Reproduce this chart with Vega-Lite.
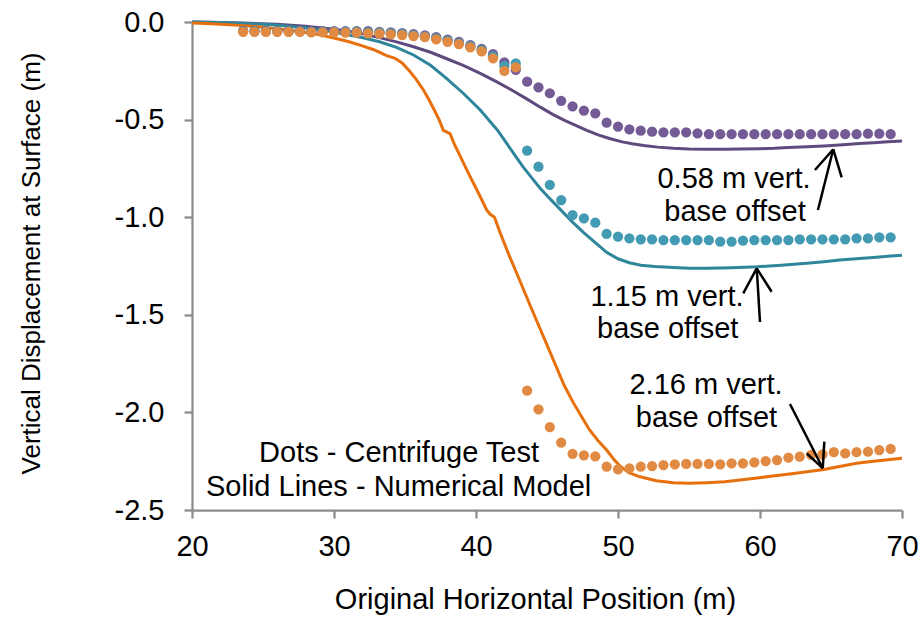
{
  "$schema": "https://vega.github.io/schema/vega-lite/v6.json",
  "width": 710,
  "height": 488,
  "autosize": {"type": "none"},
  "padding": {"left": 192, "top": 22, "right": 18, "bottom": 110},
  "background": "white",
  "config": {
    "view": {"stroke": null},
    "font": "Liberation Sans",
    "axis": {
      "grid": false,
      "domainColor": "#8c8c8c",
      "domainWidth": 2.25,
      "tickColor": "#8c8c8c",
      "tickWidth": 2.25,
      "tickSize": 8,
      "labelFontSize": 29,
      "labelColor": "black",
      "labelFont": "Liberation Sans",
      "titleFont": "Liberation Sans",
      "titleFontWeight": "normal",
      "titleColor": "black",
      "labelOverlap": false,
      "labelFlush": false
    }
  },
  "datasets": {
    "lines": [
      {"g": "P line", "x": 20, "y": 0},
      {"g": "P line", "x": 22, "y": -0.002},
      {"g": "P line", "x": 24, "y": -0.006},
      {"g": "P line", "x": 26, "y": -0.012},
      {"g": "P line", "x": 28, "y": -0.022},
      {"g": "P line", "x": 30, "y": -0.037},
      {"g": "P line", "x": 31.5, "y": -0.053},
      {"g": "P line", "x": 33.2, "y": -0.08},
      {"g": "P line", "x": 34.4, "y": -0.102},
      {"g": "P line", "x": 35.6, "y": -0.127},
      {"g": "P line", "x": 36.8, "y": -0.155},
      {"g": "P line", "x": 37.9, "y": -0.187},
      {"g": "P line", "x": 39.1, "y": -0.222},
      {"g": "P line", "x": 40.3, "y": -0.263},
      {"g": "P line", "x": 41.5, "y": -0.308},
      {"g": "P line", "x": 42.6, "y": -0.352},
      {"g": "P line", "x": 43.6, "y": -0.395},
      {"g": "P line", "x": 44.5, "y": -0.435},
      {"g": "P line", "x": 45.4, "y": -0.473},
      {"g": "P line", "x": 46.2, "y": -0.503},
      {"g": "P line", "x": 46.9, "y": -0.526},
      {"g": "P line", "x": 47.8, "y": -0.555},
      {"g": "P line", "x": 48.6, "y": -0.578},
      {"g": "P line", "x": 49.4, "y": -0.597},
      {"g": "P line", "x": 50.3, "y": -0.614},
      {"g": "P line", "x": 51.0, "y": -0.624},
      {"g": "P line", "x": 51.8, "y": -0.633},
      {"g": "P line", "x": 52.8, "y": -0.641},
      {"g": "P line", "x": 53.9, "y": -0.647},
      {"g": "P line", "x": 55.0, "y": -0.651},
      {"g": "P line", "x": 56.3, "y": -0.652},
      {"g": "P line", "x": 57.5, "y": -0.652},
      {"g": "P line", "x": 58.6, "y": -0.651},
      {"g": "P line", "x": 60.0, "y": -0.649},
      {"g": "P line", "x": 61.0, "y": -0.647},
      {"g": "P line", "x": 62.0, "y": -0.643},
      {"g": "P line", "x": 63.3, "y": -0.639},
      {"g": "P line", "x": 64.5, "y": -0.635},
      {"g": "P line", "x": 65.6, "y": -0.63},
      {"g": "P line", "x": 67.0, "y": -0.623},
      {"g": "P line", "x": 68.0, "y": -0.618},
      {"g": "P line", "x": 69.0, "y": -0.614},
      {"g": "P line", "x": 70.0, "y": -0.61},
      {"g": "T line", "x": 20, "y": 0},
      {"g": "T line", "x": 22, "y": -0.003},
      {"g": "T line", "x": 24, "y": -0.008},
      {"g": "T line", "x": 26, "y": -0.016},
      {"g": "T line", "x": 28, "y": -0.03},
      {"g": "T line", "x": 29.5, "y": -0.045},
      {"g": "T line", "x": 31, "y": -0.065},
      {"g": "T line", "x": 32.2, "y": -0.083},
      {"g": "T line", "x": 33.2, "y": -0.101},
      {"g": "T line", "x": 34.4, "y": -0.13},
      {"g": "T line", "x": 35.6, "y": -0.169},
      {"g": "T line", "x": 36.8, "y": -0.222},
      {"g": "T line", "x": 37.9, "y": -0.287},
      {"g": "T line", "x": 39.1, "y": -0.365},
      {"g": "T line", "x": 40.3, "y": -0.451},
      {"g": "T line", "x": 41.5, "y": -0.553},
      {"g": "T line", "x": 42.6, "y": -0.668},
      {"g": "T line", "x": 43.3, "y": -0.741},
      {"g": "T line", "x": 44.0, "y": -0.805},
      {"g": "T line", "x": 44.5, "y": -0.85},
      {"g": "T line", "x": 45.2, "y": -0.905},
      {"g": "T line", "x": 46.0, "y": -0.965},
      {"g": "T line", "x": 46.8, "y": -1.025},
      {"g": "T line", "x": 47.6, "y": -1.08},
      {"g": "T line", "x": 48.4, "y": -1.13},
      {"g": "T line", "x": 49.2, "y": -1.18},
      {"g": "T line", "x": 50.0, "y": -1.213},
      {"g": "T line", "x": 50.8, "y": -1.233},
      {"g": "T line", "x": 51.6, "y": -1.246},
      {"g": "T line", "x": 52.6, "y": -1.253},
      {"g": "T line", "x": 53.9, "y": -1.258},
      {"g": "T line", "x": 55.0, "y": -1.261},
      {"g": "T line", "x": 56.3, "y": -1.262},
      {"g": "T line", "x": 58.0, "y": -1.259},
      {"g": "T line", "x": 59.8, "y": -1.254},
      {"g": "T line", "x": 61.5, "y": -1.246},
      {"g": "T line", "x": 63.3, "y": -1.236},
      {"g": "T line", "x": 64.5, "y": -1.228},
      {"g": "T line", "x": 65.6, "y": -1.219},
      {"g": "T line", "x": 67.0, "y": -1.211},
      {"g": "T line", "x": 68.0, "y": -1.206},
      {"g": "T line", "x": 69.0, "y": -1.2},
      {"g": "T line", "x": 70.0, "y": -1.195},
      {"g": "O line", "x": 20, "y": -0.005},
      {"g": "O line", "x": 21, "y": -0.008},
      {"g": "O line", "x": 22, "y": -0.012},
      {"g": "O line", "x": 23, "y": -0.016},
      {"g": "O line", "x": 24, "y": -0.021},
      {"g": "O line", "x": 25, "y": -0.027},
      {"g": "O line", "x": 26, "y": -0.034},
      {"g": "O line", "x": 27, "y": -0.043},
      {"g": "O line", "x": 28, "y": -0.054},
      {"g": "O line", "x": 29, "y": -0.066},
      {"g": "O line", "x": 30, "y": -0.082},
      {"g": "O line", "x": 31, "y": -0.1},
      {"g": "O line", "x": 32, "y": -0.122},
      {"g": "O line", "x": 32.8, "y": -0.142},
      {"g": "O line", "x": 33.3, "y": -0.158},
      {"g": "O line", "x": 33.7, "y": -0.172},
      {"g": "O line", "x": 34.3, "y": -0.186},
      {"g": "O line", "x": 34.8, "y": -0.21},
      {"g": "O line", "x": 35.35, "y": -0.254},
      {"g": "O line", "x": 35.8, "y": -0.295},
      {"g": "O line", "x": 36.3, "y": -0.348},
      {"g": "O line", "x": 36.7, "y": -0.4},
      {"g": "O line", "x": 37.0, "y": -0.442},
      {"g": "O line", "x": 37.4, "y": -0.5},
      {"g": "O line", "x": 37.7, "y": -0.555},
      {"g": "O line", "x": 38.17, "y": -0.572},
      {"g": "O line", "x": 38.5, "y": -0.63},
      {"g": "O line", "x": 38.87, "y": -0.685},
      {"g": "O line", "x": 39.3, "y": -0.75},
      {"g": "O line", "x": 39.7, "y": -0.809},
      {"g": "O line", "x": 40.2, "y": -0.88},
      {"g": "O line", "x": 40.75, "y": -0.963},
      {"g": "O line", "x": 41.0, "y": -0.985},
      {"g": "O line", "x": 41.3, "y": -1.0},
      {"g": "O line", "x": 41.7, "y": -1.08},
      {"g": "O line", "x": 42.3, "y": -1.19},
      {"g": "O line", "x": 43.0, "y": -1.31},
      {"g": "O line", "x": 43.8, "y": -1.45},
      {"g": "O line", "x": 44.74, "y": -1.61},
      {"g": "O line", "x": 45.5, "y": -1.74},
      {"g": "O line", "x": 46.2, "y": -1.86},
      {"g": "O line", "x": 46.85, "y": -1.95},
      {"g": "O line", "x": 47.5, "y": -2.03},
      {"g": "O line", "x": 48.0, "y": -2.09},
      {"g": "O line", "x": 48.6, "y": -2.145},
      {"g": "O line", "x": 49.2, "y": -2.193},
      {"g": "O line", "x": 49.7, "y": -2.24},
      {"g": "O line", "x": 50.14, "y": -2.275},
      {"g": "O line", "x": 50.8, "y": -2.31},
      {"g": "O line", "x": 51.55, "y": -2.33},
      {"g": "O line", "x": 52.7, "y": -2.35},
      {"g": "O line", "x": 53.9, "y": -2.36},
      {"g": "O line", "x": 55.0, "y": -2.363},
      {"g": "O line", "x": 56.25, "y": -2.36},
      {"g": "O line", "x": 57.5, "y": -2.355},
      {"g": "O line", "x": 58.6, "y": -2.346},
      {"g": "O line", "x": 59.8, "y": -2.336},
      {"g": "O line", "x": 60.9, "y": -2.326},
      {"g": "O line", "x": 62.1, "y": -2.315},
      {"g": "O line", "x": 63.3, "y": -2.304},
      {"g": "O line", "x": 64.5, "y": -2.292},
      {"g": "O line", "x": 65.6, "y": -2.277},
      {"g": "O line", "x": 66.8, "y": -2.261},
      {"g": "O line", "x": 68.0, "y": -2.25},
      {"g": "O line", "x": 69.0, "y": -2.242},
      {"g": "O line", "x": 70.0, "y": -2.235}
    ],
    "dots": [
      {"g": "P dots", "x": 23.6, "y": -0.045}, {"g": "P dots", "x": 24.4, "y": -0.045}, {"g": "P dots", "x": 25.2, "y": -0.045},
      {"g": "P dots", "x": 26.0, "y": -0.045}, {"g": "P dots", "x": 26.8, "y": -0.045}, {"g": "P dots", "x": 27.6, "y": -0.045},
      {"g": "P dots", "x": 28.4, "y": -0.047}, {"g": "P dots", "x": 29.2, "y": -0.047}, {"g": "P dots", "x": 30.0, "y": -0.047},
      {"g": "P dots", "x": 30.8, "y": -0.047}, {"g": "P dots", "x": 31.6, "y": -0.047}, {"g": "P dots", "x": 32.4, "y": -0.047},
      {"g": "P dots", "x": 33.2, "y": -0.05}, {"g": "P dots", "x": 34.0, "y": -0.053}, {"g": "P dots", "x": 34.8, "y": -0.057},
      {"g": "P dots", "x": 35.6, "y": -0.062}, {"g": "P dots", "x": 36.4, "y": -0.068}, {"g": "P dots", "x": 37.2, "y": -0.078},
      {"g": "P dots", "x": 38.0, "y": -0.09}, {"g": "P dots", "x": 38.8, "y": -0.102}, {"g": "P dots", "x": 39.6, "y": -0.118},
      {"g": "P dots", "x": 40.4, "y": -0.138}, {"g": "P dots", "x": 41.2, "y": -0.165}, {"g": "P dots", "x": 42.0, "y": -0.207},
      {"g": "P dots", "x": 42.8, "y": -0.245}, {"g": "P dots", "x": 43.6, "y": -0.306}, {"g": "P dots", "x": 44.4, "y": -0.335},
      {"g": "P dots", "x": 45.2, "y": -0.365}, {"g": "P dots", "x": 46.0, "y": -0.404}, {"g": "P dots", "x": 46.8, "y": -0.432},
      {"g": "P dots", "x": 47.6, "y": -0.454}, {"g": "P dots", "x": 48.4, "y": -0.468}, {"g": "P dots", "x": 49.2, "y": -0.516},
      {"g": "P dots", "x": 50.0, "y": -0.536}, {"g": "P dots", "x": 50.8, "y": -0.55}, {"g": "P dots", "x": 51.6, "y": -0.557},
      {"g": "P dots", "x": 52.4, "y": -0.562}, {"g": "P dots", "x": 53.2, "y": -0.565}, {"g": "P dots", "x": 54.0, "y": -0.565},
      {"g": "P dots", "x": 54.8, "y": -0.565}, {"g": "P dots", "x": 55.6, "y": -0.57}, {"g": "P dots", "x": 56.4, "y": -0.574},
      {"g": "P dots", "x": 57.2, "y": -0.575}, {"g": "P dots", "x": 58.0, "y": -0.575}, {"g": "P dots", "x": 58.8, "y": -0.575},
      {"g": "P dots", "x": 59.6, "y": -0.575}, {"g": "P dots", "x": 60.4, "y": -0.575}, {"g": "P dots", "x": 61.2, "y": -0.575},
      {"g": "P dots", "x": 62.0, "y": -0.575}, {"g": "P dots", "x": 62.8, "y": -0.575}, {"g": "P dots", "x": 63.6, "y": -0.575},
      {"g": "P dots", "x": 64.4, "y": -0.575}, {"g": "P dots", "x": 65.2, "y": -0.575}, {"g": "P dots", "x": 66.0, "y": -0.575},
      {"g": "P dots", "x": 66.8, "y": -0.575}, {"g": "P dots", "x": 67.6, "y": -0.572}, {"g": "P dots", "x": 68.4, "y": -0.572},
      {"g": "P dots", "x": 69.2, "y": -0.575},
      {"g": "T dots", "x": 23.6, "y": -0.048}, {"g": "T dots", "x": 24.4, "y": -0.048}, {"g": "T dots", "x": 25.2, "y": -0.048},
      {"g": "T dots", "x": 26.0, "y": -0.048}, {"g": "T dots", "x": 26.8, "y": -0.048}, {"g": "T dots", "x": 27.6, "y": -0.048},
      {"g": "T dots", "x": 28.4, "y": -0.05}, {"g": "T dots", "x": 29.2, "y": -0.05}, {"g": "T dots", "x": 30.0, "y": -0.05},
      {"g": "T dots", "x": 30.8, "y": -0.051}, {"g": "T dots", "x": 31.6, "y": -0.051}, {"g": "T dots", "x": 32.4, "y": -0.053},
      {"g": "T dots", "x": 33.2, "y": -0.055}, {"g": "T dots", "x": 34.0, "y": -0.058}, {"g": "T dots", "x": 34.8, "y": -0.062},
      {"g": "T dots", "x": 35.6, "y": -0.067}, {"g": "T dots", "x": 36.4, "y": -0.073}, {"g": "T dots", "x": 37.2, "y": -0.084},
      {"g": "T dots", "x": 38.0, "y": -0.096}, {"g": "T dots", "x": 38.8, "y": -0.108}, {"g": "T dots", "x": 39.6, "y": -0.124},
      {"g": "T dots", "x": 40.4, "y": -0.144}, {"g": "T dots", "x": 41.2, "y": -0.176}, {"g": "T dots", "x": 42.0, "y": -0.225},
      {"g": "T dots", "x": 42.8, "y": -0.212}, {"g": "T dots", "x": 43.6, "y": -0.659}, {"g": "T dots", "x": 44.4, "y": -0.741},
      {"g": "T dots", "x": 45.2, "y": -0.835}, {"g": "T dots", "x": 46.0, "y": -0.912}, {"g": "T dots", "x": 46.8, "y": -0.989},
      {"g": "T dots", "x": 47.6, "y": -1.006}, {"g": "T dots", "x": 48.4, "y": -1.028}, {"g": "T dots", "x": 49.2, "y": -1.086},
      {"g": "T dots", "x": 50.0, "y": -1.1}, {"g": "T dots", "x": 50.8, "y": -1.108}, {"g": "T dots", "x": 51.6, "y": -1.113},
      {"g": "T dots", "x": 52.4, "y": -1.113}, {"g": "T dots", "x": 53.2, "y": -1.117}, {"g": "T dots", "x": 54.0, "y": -1.117},
      {"g": "T dots", "x": 54.8, "y": -1.117}, {"g": "T dots", "x": 55.6, "y": -1.117}, {"g": "T dots", "x": 56.4, "y": -1.117},
      {"g": "T dots", "x": 57.2, "y": -1.125}, {"g": "T dots", "x": 58.0, "y": -1.125}, {"g": "T dots", "x": 58.8, "y": -1.12},
      {"g": "T dots", "x": 59.6, "y": -1.117}, {"g": "T dots", "x": 60.4, "y": -1.117}, {"g": "T dots", "x": 61.2, "y": -1.117},
      {"g": "T dots", "x": 62.0, "y": -1.117}, {"g": "T dots", "x": 62.8, "y": -1.113}, {"g": "T dots", "x": 63.6, "y": -1.113},
      {"g": "T dots", "x": 64.4, "y": -1.113}, {"g": "T dots", "x": 65.2, "y": -1.113}, {"g": "T dots", "x": 66.0, "y": -1.113},
      {"g": "T dots", "x": 66.8, "y": -1.108}, {"g": "T dots", "x": 67.6, "y": -1.108}, {"g": "T dots", "x": 68.4, "y": -1.103},
      {"g": "T dots", "x": 69.2, "y": -1.103},
      {"g": "O dots", "x": 23.6, "y": -0.05}, {"g": "O dots", "x": 24.4, "y": -0.05}, {"g": "O dots", "x": 25.2, "y": -0.05},
      {"g": "O dots", "x": 26.0, "y": -0.05}, {"g": "O dots", "x": 26.8, "y": -0.05}, {"g": "O dots", "x": 27.6, "y": -0.05},
      {"g": "O dots", "x": 28.4, "y": -0.053}, {"g": "O dots", "x": 29.2, "y": -0.053}, {"g": "O dots", "x": 30.0, "y": -0.053},
      {"g": "O dots", "x": 30.8, "y": -0.055}, {"g": "O dots", "x": 31.6, "y": -0.055}, {"g": "O dots", "x": 32.4, "y": -0.058},
      {"g": "O dots", "x": 33.2, "y": -0.06}, {"g": "O dots", "x": 34.0, "y": -0.063}, {"g": "O dots", "x": 34.8, "y": -0.067},
      {"g": "O dots", "x": 35.6, "y": -0.072}, {"g": "O dots", "x": 36.4, "y": -0.077}, {"g": "O dots", "x": 37.2, "y": -0.089},
      {"g": "O dots", "x": 38.0, "y": -0.102}, {"g": "O dots", "x": 38.8, "y": -0.113}, {"g": "O dots", "x": 39.6, "y": -0.13},
      {"g": "O dots", "x": 40.4, "y": -0.15}, {"g": "O dots", "x": 41.2, "y": -0.186}, {"g": "O dots", "x": 42.0, "y": -0.251},
      {"g": "O dots", "x": 42.8, "y": -0.232}, {"g": "O dots", "x": 43.6, "y": -1.889}, {"g": "O dots", "x": 44.4, "y": -1.984},
      {"g": "O dots", "x": 45.2, "y": -2.075}, {"g": "O dots", "x": 46.0, "y": -2.155}, {"g": "O dots", "x": 46.8, "y": -2.212},
      {"g": "O dots", "x": 47.6, "y": -2.22}, {"g": "O dots", "x": 48.4, "y": -2.225}, {"g": "O dots", "x": 49.2, "y": -2.278},
      {"g": "O dots", "x": 50.0, "y": -2.292}, {"g": "O dots", "x": 50.8, "y": -2.287}, {"g": "O dots", "x": 51.6, "y": -2.278},
      {"g": "O dots", "x": 52.4, "y": -2.275}, {"g": "O dots", "x": 53.2, "y": -2.27}, {"g": "O dots", "x": 54.0, "y": -2.266},
      {"g": "O dots", "x": 54.8, "y": -2.264}, {"g": "O dots", "x": 55.6, "y": -2.264}, {"g": "O dots", "x": 56.4, "y": -2.264},
      {"g": "O dots", "x": 57.2, "y": -2.266}, {"g": "O dots", "x": 58.0, "y": -2.261}, {"g": "O dots", "x": 58.8, "y": -2.261},
      {"g": "O dots", "x": 59.6, "y": -2.256}, {"g": "O dots", "x": 60.4, "y": -2.249}, {"g": "O dots", "x": 61.2, "y": -2.244},
      {"g": "O dots", "x": 62.0, "y": -2.232}, {"g": "O dots", "x": 62.8, "y": -2.227}, {"g": "O dots", "x": 63.6, "y": -2.218},
      {"g": "O dots", "x": 64.4, "y": -2.215}, {"g": "O dots", "x": 65.2, "y": -2.204}, {"g": "O dots", "x": 66.0, "y": -2.21},
      {"g": "O dots", "x": 66.8, "y": -2.204}, {"g": "O dots", "x": 67.6, "y": -2.201}, {"g": "O dots", "x": 68.4, "y": -2.193},
      {"g": "O dots", "x": 69.2, "y": -2.187}
    ],
    "arrows": [
      {"x": 64.08, "y": -0.963, "x2": 65.16, "y2": -0.652},
      {"x": 65.16, "y": -0.652, "x2": 63.87, "y2": -0.758},
      {"x": 65.16, "y": -0.652, "x2": 65.75, "y2": -0.796},
      {"x": 60.0, "y": -1.537, "x2": 59.77, "y2": -1.262},
      {"x": 59.77, "y": -1.262, "x2": 58.82, "y2": -1.39},
      {"x": 59.77, "y": -1.262, "x2": 60.82, "y2": -1.382},
      {"x": 62.11, "y": -1.957, "x2": 64.42, "y2": -2.286},
      {"x": 64.42, "y": -2.286, "x2": 63.29, "y2": -2.21},
      {"x": 64.42, "y": -2.286, "x2": 64.53, "y2": -2.15}
    ],
    "notes": [
      {"t": "0.58 m vert.", "x": 58.17, "y": -0.852},
      {"t": "base offset", "x": 58.24, "y": -1.018},
      {"t": "1.15 m vert.", "x": 53.45, "y": -1.455},
      {"t": "base offset", "x": 53.5, "y": -1.619},
      {"t": "2.16 m vert.", "x": 56.2, "y": -1.906},
      {"t": "base offset", "x": 56.23, "y": -2.076},
      {"t": "Dots - Centrifuge Test", "x": 34.58, "y": -2.253},
      {"t": "Solid Lines - Numerical Model", "x": 34.55, "y": -2.428}
    ]
  },
  "encoding": {
    "x": {
      "field": "x",
      "type": "quantitative",
      "scale": {"domain": [20, 70], "nice": false, "zero": false},
      "axis": {
        "values": [20, 30, 40, 50, 60, 70],
        "title": "Original Horizontal Position (m)",
        "titleFontSize": 29,
        "titleX": 343,
        "titleY": 98,
        "titleBaseline": "alphabetic",
        "titleAlign": "center",
        "labelPadding": 14
      }
    },
    "y": {
      "field": "y",
      "type": "quantitative",
      "scale": {"domain": [-2.5, 0], "nice": false, "zero": false},
      "axis": {
        "values": [0, -0.5, -1, -1.5, -2, -2.5],
        "labelExpr": "(datum.value < 0 ? '-' : '') + format(abs(datum.value), '.1f')",
        "title": "Vertical Displacement at Surface (m)",
        "titleFontSize": 26,
        "titleX": -153,
        "titleY": 241,
        "titleAngle": -90,
        "titleBaseline": "alphabetic",
        "titleAlign": "center",
        "labelPadding": 20
      }
    }
  },
  "layer": [
    {
      "data": {"name": "lines"},
      "mark": {"type": "line", "strokeWidth": 3},
      "encoding": {
        "color": {
          "field": "g",
          "type": "nominal",
          "scale": {
            "domain": ["P line", "T line", "O line", "P dots", "T dots", "O dots"],
            "range": ["#5f4a7e", "#2f869b", "#e8700c", "#745b95", "#439ab3", "#e08a43"]
          },
          "legend": null
        }
      }
    },
    {
      "data": {"name": "dots"},
      "mark": {"type": "circle", "size": 105, "opacity": 1},
      "encoding": {
        "color": {
          "field": "g",
          "type": "nominal",
          "scale": {
            "domain": ["P line", "T line", "O line", "P dots", "T dots", "O dots"],
            "range": ["#5f4a7e", "#2f869b", "#e8700c", "#745b95", "#439ab3", "#e08a43"]
          },
          "legend": null
        }
      }
    },
    {
      "data": {"name": "arrows"},
      "mark": {"type": "rule", "color": "black", "strokeWidth": 2.5},
      "encoding": {
        "x2": {"field": "x2"},
        "y2": {"field": "y2"}
      }
    },
    {
      "data": {"name": "notes"},
      "mark": {"type": "text", "fontSize": 29, "align": "center", "baseline": "alphabetic", "color": "black", "font": "Liberation Sans"},
      "encoding": {
        "text": {"field": "t"}
      }
    }
  ]
}
